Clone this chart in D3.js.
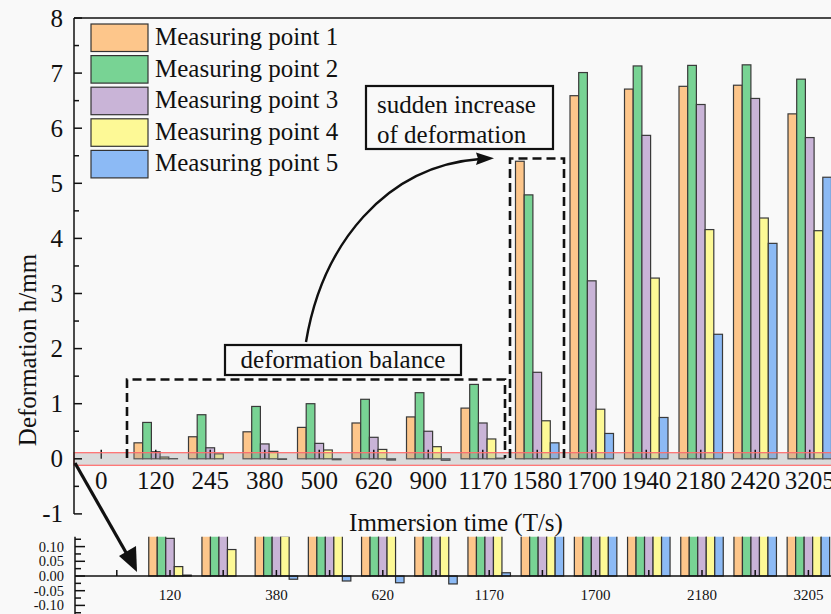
<!DOCTYPE html>
<html><head><meta charset="utf-8">
<script src="https://cdn.jsdelivr.net/npm/d3@7"></script>
<style>
html,body{margin:0;padding:0;background:#f9f9f9;}
svg{display:block;font-family:"Liberation Serif","Times New Roman",serif;}
</style></head>
<body>
<svg id="c" width="831" height="614"></svg>
<script>
// ---- data ----
const categories = ["0","120","245","380","500","620","900","1170","1580","1700","1940","2180","2420","3205"];
const seriesNames = ["Measuring point 1","Measuring point 2","Measuring point 3","Measuring point 4","Measuring point 5"];
const point1 = [0, 0.29, 0.40, 0.49, 0.57, 0.65, 0.76, 0.92, 5.40, 6.59, 6.71, 6.76, 6.78, 6.26];
const point2 = [0, 0.66, 0.80, 0.95, 1.00, 1.08, 1.20, 1.35, 4.79, 7.01, 7.13, 7.14, 7.15, 6.89];
const point3 = [0, 0.128, 0.20, 0.27, 0.28, 0.39, 0.50, 0.65, 1.57, 3.23, 5.87, 6.43, 6.54, 5.83];
const point4 = [0, 0.032, 0.09, 0.135, 0.16, 0.17, 0.22, 0.36, 0.69, 0.90, 3.28, 4.16, 4.37, 4.14];
const point5 = [0, 0.003, 0, -0.011, -0.017, -0.023, -0.027, 0.011, 0.29, 0.46, 0.75, 2.26, 3.91, 5.11];
const colors = ["#fdc68b","#78d394","#c9b4d7","#fdf996","#8cbaf5"];
const yTicks = [-1,0,1,2,3,4,5,6,7,8];
const insetYTicks = [-0.10,-0.05,0.00,0.05,0.10];
const insetXLabels = ["120","380","620","1170","1700","2180","3205"];

const series = [point1, point2, point3, point4, point5];
const rows = [];
categories.forEach((c,i)=>series.forEach((s,j)=>rows.push({cat:c, key:seriesNames[j], idx:j, v:s[i]})));

const svg = d3.select("#c");
const W = 831;

// ---- main chart ----
const x = d3.scaleBand().domain(categories).range([74, 74 + 14*54.5]);
const xs = d3.scaleBand().domain(seriesNames).range([-21.75, 21.75]);
const y = d3.scaleLinear().domain([-1, 8]).range([513.9, 18]);

const main = svg.append("g");
main.append("g").selectAll("rect").data(rows).join("rect")
  .attr("x", d => x(d.cat) + x.bandwidth()/2 + xs(d.key))
  .attr("width", xs.bandwidth())
  .attr("y", d => Math.min(y(d.v), y(0)))
  .attr("height", d => Math.abs(y(d.v) - y(0)))
  .attr("fill", d => colors[d.idx])
  .attr("stroke", "#3a3a3a").attr("stroke-width", 1.2);

// x ticks at zero line (inward, up)
main.append("g").selectAll("line").data(categories).join("line")
  .attr("x1", d => x(d) + x.bandwidth()/2).attr("x2", d => x(d) + x.bandwidth()/2)
  .attr("y1", y(0)).attr("y2", y(0) - 9)
  .attr("stroke", "#111").attr("stroke-width", 1.5);

// highlight band
main.append("rect").attr("x", 74).attr("y", 452.7).attr("width", W - 74 + 10).attr("height", 12.6)
  .attr("fill", "rgba(150,150,150,0.3)").attr("stroke", "#ff6b6b").attr("stroke-width", 1.2);

// y axis
main.append("line").attr("x1", 74).attr("x2", 74).attr("y1", y(8)).attr("y2", y(-1)).attr("stroke","#111").attr("stroke-width",1.5);
main.append("line").attr("x1", 74).attr("x2", W+5).attr("y1", y(8)).attr("y2", y(8)).attr("stroke","#111").attr("stroke-width",1.5);
main.append("g").selectAll("line").data(yTicks).join("line")
  .attr("x1",74).attr("x2",82).attr("y1",d=>y(d)).attr("y2",d=>y(d)).attr("stroke","#111").attr("stroke-width",1.5);
main.append("g").selectAll("line").data(yTicks.slice(0,-1).map(d=>d+0.5)).join("line")
  .attr("x1",74).attr("x2",79).attr("y1",d=>y(d)).attr("y2",d=>y(d)).attr("stroke","#111").attr("stroke-width",1.5);
main.append("g").selectAll("text").data(yTicks).join("text")
  .attr("x", 63).attr("y", d => y(d)).attr("dy","0.34em").attr("text-anchor","end")
  .attr("font-size", 25).attr("fill","#111").text(d => d);
main.append("g").selectAll("text").data(categories).join("text")
  .attr("x", d => x(d) + x.bandwidth()/2).attr("y", 489).attr("text-anchor","middle")
  .attr("font-size", 25).attr("fill","#111").text(d => d);

main.append("text").attr("x", 456).attr("y", 531).attr("text-anchor","middle").attr("font-size",25).attr("fill","#111").text("Immersion time (T/s)");
main.append("text").attr("transform","translate(36,350) rotate(-90)").attr("text-anchor","middle").attr("font-size",25).attr("fill","#111").text("Deformation h/mm");

// legend
const lg = main.append("g");
seriesNames.forEach((n,i)=>{
  const top = 24 + i*31.6;
  lg.append("rect").attr("x",91).attr("y",top).attr("width",57).attr("height",27.5).attr("fill",colors[i]).attr("stroke","#333").attr("stroke-width",1.2);
  lg.append("text").attr("x",155).attr("y",top+21).attr("font-size",25).attr("fill","#111").text(n);
});

// annotations
const ann = svg.append("g");
ann.append("path").attr("d","M127,458 L127,379.5 L505,379.5 L505,458")
  .attr("fill","none").attr("stroke","#111").attr("stroke-width",2.6).attr("stroke-dasharray","9,5");
ann.append("path").attr("d","M510,458 L510,158.5 L564,158.5 L564,458")
  .attr("fill","none").attr("stroke","#111").attr("stroke-width",2.6).attr("stroke-dasharray","9,5");
ann.append("rect").attr("x",225).attr("y",345).attr("width",236).attr("height",30).attr("fill","#f9f9f9").attr("stroke","#111").attr("stroke-width",2.2);
ann.append("text").attr("x",343).attr("y",368).attr("text-anchor","middle").attr("font-size",25).attr("fill","#111").text("deformation balance");
ann.append("rect").attr("x",366).attr("y",86).attr("width",187).attr("height",63).attr("fill","#f9f9f9").attr("stroke","#111").attr("stroke-width",2.2);
ann.append("text").attr("x",377).attr("y",113).attr("font-size",25).attr("fill","#111").text("sudden increase");
ann.append("text").attr("x",377).attr("y",143).attr("font-size",25).attr("fill","#111").text("of deformation");
ann.append("path").attr("d","M306,342 C322,245 385,166 480,159").attr("fill","none").attr("stroke","#111").attr("stroke-width",2.4);
ann.append("path").attr("d","M494,158.3 L476,152.5 L478,158.8 L476,165 Z").attr("fill","#111");
ann.append("line").attr("x1",75).attr("y1",463).attr("x2",128).attr("y2",556).attr("stroke","#111").attr("stroke-width",3.2);
ann.append("path").attr("d","M137,572 L119,556 L136,546 Z").attr("fill","#111");

// ---- inset ----
const xi = d3.scaleBand().domain(categories).range([90.2, 90.2 + 14*53.2]);
const xsi = d3.scaleBand().domain(seriesNames).range([-21.25, 21.25]);
const yi = d3.scaleLinear().domain([-0.10, 0.10]).range([605.4, 546.6]);
svg.append("clipPath").attr("id","ic").append("rect").attr("x",75).attr("y",536.7).attr("width",W).attr("height",80);
const ins = svg.append("g");
ins.append("g").attr("clip-path","url(#ic)").selectAll("rect").data(rows).join("rect")
  .attr("x", d => xi(d.cat) + xi.bandwidth()/2 + xsi(d.key))
  .attr("width", xsi.bandwidth())
  .attr("y", d => Math.min(yi(d.v), yi(0)))
  .attr("height", d => Math.abs(yi(d.v) - yi(0)))
  .attr("fill", d => colors[d.idx])
  .attr("stroke", "#333").attr("stroke-width", 1.2);
ins.append("line").attr("x1",75).attr("x2",W+5).attr("y1",yi(0)).attr("y2",yi(0)).attr("stroke","#111").attr("stroke-width",1.5);
ins.append("g").selectAll("line").data(categories).join("line")
  .attr("x1", d => xi(d) + xi.bandwidth()/2).attr("x2", d => xi(d) + xi.bandwidth()/2)
  .attr("y1", yi(0)).attr("y2", yi(0) - 6).attr("stroke","#111").attr("stroke-width",1.5);
ins.append("line").attr("x1",75).attr("x2",75).attr("y1",536.7).attr("y2",614).attr("stroke","#111").attr("stroke-width",1.5);
ins.append("g").selectAll("line").data(insetYTicks).join("line")
  .attr("x1",75).attr("x2",85).attr("y1",d=>yi(d)).attr("y2",d=>yi(d)).attr("stroke","#111").attr("stroke-width",1.5);
ins.append("g").selectAll("line").data([-0.125,-0.075,-0.025,0.025,0.075,0.125]).join("line")
  .attr("x1",75).attr("x2",81).attr("y1",d=>yi(d)).attr("y2",d=>yi(d)).attr("stroke","#111").attr("stroke-width",1.5);
ins.append("g").selectAll("text").data(insetYTicks).join("text")
  .attr("x",64).attr("y",d=>yi(d)).attr("dy","0.34em").attr("text-anchor","end").attr("font-size",14.5).attr("fill","#111")
  .text(d => d3.format(".2f")(d).replace("−","-"));
ins.append("g").selectAll("text").data(insetXLabels).join("text")
  .attr("x", d => xi(d) + xi.bandwidth()/2).attr("y", 599.5).attr("text-anchor","middle").attr("font-size",15).attr("fill","#111").text(d=>d);
</script>
</body></html>
